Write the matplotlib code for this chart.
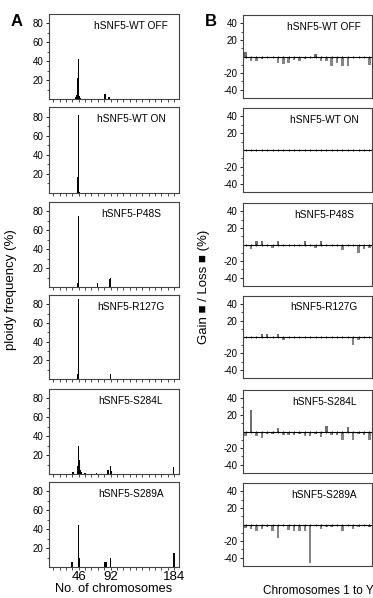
import numpy as np
import matplotlib
matplotlib.use("Agg")
import matplotlib.pyplot as plt
from matplotlib.ticker import MultipleLocator, FixedLocator

plt.rcParams['font.family'] = ['Liberation Sans', 'DejaVu Sans']
plt.rcParams['axes.unicode_minus'] = False

# panel names
labels = ["hSNF5-WT OFF", "hSNF5-WT ON", "hSNF5-P48S",
          "hSNF5-R127G", "hSNF5-S284L", "hSNF5-S289A"]

# A: ploidy distribution (chromosome number -> frequency %)
ploidy_n = [
    [42, 43, 44, 45, 46, 47, 48, 84, 90],
    [45, 46, 47],
    [45, 46, 73, 91, 92],
    [45, 46, 92],
    [38, 44, 45, 46, 47, 48, 50, 55, 72, 88, 92, 93, 183],
    [36, 46, 47, 84, 86, 92, 184],
]
ploidy_f = [
    [2, 4, 6, 22, 42, 3, 1, 5, 2],
    [17, 82, 1],
    [4, 75, 4, 8, 10],
    [5, 86, 5],
    [2, 8, 8, 30, 15, 4, 2, 1, 1, 4, 8, 3, 7],
    [5, 45, 10, 5, 5, 10, 15],
]

# B: gain / loss per chromosome (1..22, X, Y)
chrom = np.arange(1, 25)
gainloss = [
    [5, -6, -5, -3, -2, -2, -8, -9, -8, -4, -6, -3, -2, 3, -6, -5, -12, -8, -11, -11, -2, -1, -1, -10],
    [0, -1, 0, 0, -1, 0, 0, 0, 0, -1, 0, 0, -1, 0, -1, 0, -1, 0, 0, -1, 0, -1, 0, -1],
    [0, -5, 4, 4, 0, -4, 4, 0, 0, 0, 0, 4, 0, -4, 4, 0, 0, 0, -7, 0, 0, -10, -5, -4],
    [0, 0, 0, 4, 4, 0, 4, -4, 0, 0, 0, 0, 0, 0, 0, 0, 0, 0, 0, 0, -10, -4, 0, 0],
    [-5, 26, -5, -8, -3, -3, 4, -4, -4, -4, -3, -6, -6, -3, -7, 7, -4, -4, -10, 6, -10, -3, -4, -10],
    [-4, -6, -8, -6, -3, -8, -16, 0, -7, -8, -8, -8, -46, 0, -6, -3, -3, 0, -8, 0, -6, -3, 0, -3],
]

W, H = 373, 598
fig = plt.figure(figsize=(W / 100, H / 100), dpi=100)

tops = [14, 107, 202, 295, 389, 482]
bots = [99, 193, 287, 379, 474, 567]

def px_axes(x0, x1, y0, y1):
    return fig.add_axes([x0 / W, 1 - y1 / H, (x1 - x0) / W, (y1 - y0) / H])

edge = '#444444'
for i in range(6):
    # ---- left: ploidy
    ax = px_axes(49, 179, tops[i], bots[i])
    ax.bar(ploidy_n[i], ploidy_f[i], width=2.2, color='black', linewidth=0)
    ax.set_xlim(3, 191)
    ax.set_ylim(0, 90)
    ax.yaxis.set_major_locator(FixedLocator([20, 40, 60, 80]))
    ax.yaxis.set_minor_locator(FixedLocator([10, 30, 50, 70]))
    ax.xaxis.set_major_locator(FixedLocator([46, 92, 184]))
    ax.xaxis.set_minor_locator(MultipleLocator(9.2))
    ax.tick_params(axis='y', labelsize=7, length=2.5, width=0.6, pad=1.5, colors='black')
    ax.tick_params(axis='y', which='minor', length=1.5, width=0.5)
    ax.tick_params(axis='x', which='both', length=2, width=0.5, labelsize=9.5, pad=1)
    if i < 5:
        ax.tick_params(axis='x', labelbottom=False)
    else:
        ax.set_xticklabels(['46', '92', '184'])
        ax.set_xlabel('No. of chromosomes', fontsize=9.2, labelpad=0)
    for s in ax.spines.values():
        s.set_color(edge)
        s.set_linewidth(0.8)
    ax.text(0.63, 0.86, labels[i], transform=ax.transAxes, ha='center',
            va='center', fontsize=7.3)

    # ---- right: gain / loss
    bx = px_axes(243, 372, tops[i] + 1, bots[i] - 1)
    vals = np.array(gainloss[i])
    cols = ['#6e6e6e' if v > 0 else '#858585' for v in vals]
    bx.bar(chrom, vals, width=0.45, color=cols, linewidth=0)
    bx.axhline(0, color='black', linewidth=0.8)
    bx.plot(chrom, np.zeros(24), '|', color='black', markersize=2, markeredgewidth=0.6)
    bx.set_xlim(0.5, 24.5)
    bx.set_ylim(-50, 50)
    bx.set_xticks([])
    bx.yaxis.set_major_locator(FixedLocator([-40, -20, 20, 40]))
    bx.yaxis.set_minor_locator(FixedLocator([-30, -10, 10, 30]))
    bx.tick_params(axis='y', labelsize=7, length=2.5, width=0.6, pad=1.5)
    bx.tick_params(axis='y', which='minor', length=1.5, width=0.5)
    for s in bx.spines.values():
        s.set_color(edge)
        s.set_linewidth(0.8)
    bx.text(0.63, 0.86, labels[i], transform=bx.transAxes, ha='center',
            va='center', fontsize=7.3)

fig.text(17 / W, 1 - 22 / H, 'A', fontsize=12, fontweight='bold', ha='center', va='center')
fig.text(211 / W, 1 - 22 / H, 'B', fontsize=12, fontweight='bold', ha='center', va='center')
fig.text(11 / W, 1 - 290 / H, 'ploidy frequency (%)', rotation=90, fontsize=9.5,
         ha='center', va='center')
fig.text(204 / W, 1 - 287 / H, 'Gain \u25a0 / Loss \u25a0 (%)', rotation=90, fontsize=9.5,
         ha='center', va='center', color='black')
fig.text(318 / W, 1 - 591 / H, 'Chromosomes 1 to Y', fontsize=8.5, ha='center', va='center')

fig.savefig('out.png', dpi=100)
